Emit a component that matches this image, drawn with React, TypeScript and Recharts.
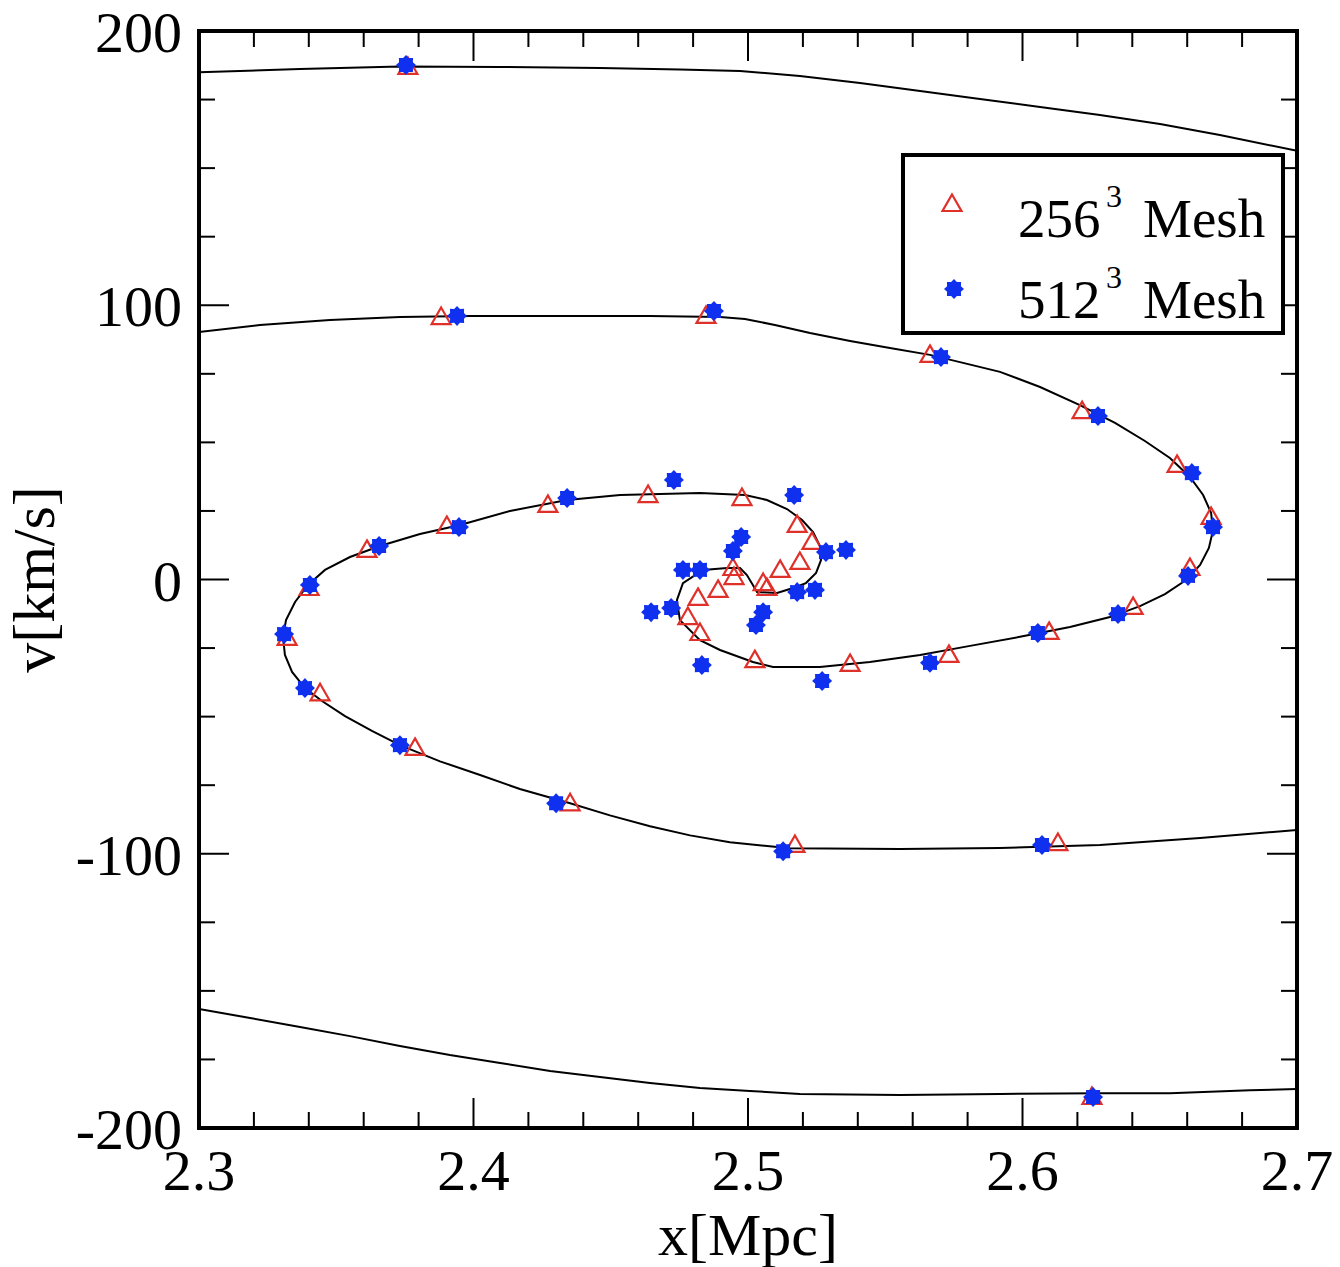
import React from 'react';
import { ScatterChart, Scatter, XAxis, YAxis, Legend, Label } from 'recharts';

const FONT = '"Liberation Serif", "Times New Roman", serif';
const RED = '#e0302a';
const BLUE = '#1030f0';

// axis ticks (majors get labels)
const xTicks = [2.3, 2.32, 2.34, 2.36, 2.38, 2.4, 2.42, 2.44, 2.46, 2.48, 2.5, 2.52, 2.54, 2.56, 2.58, 2.6, 2.62, 2.64, 2.66, 2.68, 2.7];
const yTicks = [-200, -175, -150, -125, -100, -75, -50, -25, 0, 25, 50, 75, 100, 125, 150, 175, 200];

// phase-space curve pieces, x [Mpc] / v [km/s]
const topArc = [
  { x: 2.3, v: 185.0 }, { x: 2.3368, v: 186.1 }, { x: 2.3732, v: 187.1 }, { x: 2.4097, v: 186.9 },
  { x: 2.4461, v: 186.5 }, { x: 2.4752, v: 186.0 }, { x: 2.4971, v: 185.4 }, { x: 2.5189, v: 183.6 },
  { x: 2.5408, v: 181.0 }, { x: 2.5627, v: 178.1 }, { x: 2.5845, v: 175.2 }, { x: 2.6064, v: 172.3 },
  { x: 2.6282, v: 169.4 }, { x: 2.6501, v: 166.1 }, { x: 2.6719, v: 162.1 }, { x: 2.7, v: 156.3 },
];

const bottomArc = [
  { x: 2.3, v: -156.6 }, { x: 2.3186, v: -159.9 }, { x: 2.3368, v: -163.2 }, { x: 2.355, v: -166.5 },
  { x: 2.3732, v: -170.1 }, { x: 2.3914, v: -173.4 }, { x: 2.4097, v: -176.3 }, { x: 2.4279, v: -179.2 },
  { x: 2.4461, v: -181.4 }, { x: 2.4643, v: -183.6 }, { x: 2.4825, v: -185.4 }, { x: 2.5007, v: -186.5 },
  { x: 2.5189, v: -187.6 }, { x: 2.5554, v: -188.0 }, { x: 2.5918, v: -187.6 }, { x: 2.6282, v: -187.3 },
  { x: 2.6537, v: -187.3 }, { x: 2.6829, v: -186.2 }, { x: 2.7, v: -185.8 },
];

const spiral = [
  { x: 2.3, v: 90.2 }, { x: 2.3222, v: 92.8 }, { x: 2.3477, v: 94.6 }, { x: 2.3732, v: 95.7 },
  { x: 2.3987, v: 96.1 }, { x: 2.4279, v: 96.1 }, { x: 2.4643, v: 96.1 }, { x: 2.4898, v: 95.7 },
  { x: 2.4989, v: 95.0 }, { x: 2.5098, v: 92.8 }, { x: 2.5226, v: 89.9 }, { x: 2.5372, v: 87.0 },
  { x: 2.5517, v: 84.4 }, { x: 2.5663, v: 81.9 }, { x: 2.5791, v: 78.8 }, { x: 2.5918, v: 75.7 },
  { x: 2.6064, v: 70.2 }, { x: 2.6209, v: 63.6 }, { x: 2.6337, v: 57.1 }, { x: 2.6446, v: 50.5 },
  { x: 2.6537, v: 44.3 }, { x: 2.661, v: 37.4 }, { x: 2.6658, v: 30.8 }, { x: 2.6687, v: 24.3 },
  { x: 2.6694, v: 18.0 }, { x: 2.6679, v: 11.5 }, { x: 2.6647, v: 5.3 }, { x: 2.6596, v: -0.2 },
  { x: 2.6519, v: -5.3 }, { x: 2.6428, v: -9.7 }, { x: 2.6319, v: -13.7 }, { x: 2.6173, v: -17.3 },
  { x: 2.5991, v: -20.9 }, { x: 2.5809, v: -24.2 }, { x: 2.5627, v: -27.5 }, { x: 2.5444, v: -30.1 },
  { x: 2.5262, v: -31.9 }, { x: 2.5091, v: -31.9 }, { x: 2.5018, v: -30.1 }, { x: 2.4898, v: -25.7 },
  { x: 2.4825, v: -22.1 }, { x: 2.4752, v: -14.8 }, { x: 2.4741, v: -7.5 }, { x: 2.4763, v: -1.3 },
  { x: 2.4836, v: 3.5 }, { x: 2.4924, v: 4.2 }, { x: 2.4971, v: 4.2 }, { x: 2.4996, v: 1.6 },
  { x: 2.5033, v: -4.6 }, { x: 2.5106, v: -4.9 }, { x: 2.5164, v: -3.1 }, { x: 2.5211, v: -1.3 },
  { x: 2.5248, v: 2.4 }, { x: 2.5266, v: 7.1 }, { x: 2.5262, v: 12.2 }, { x: 2.5237, v: 17.3 },
  { x: 2.5197, v: 21.7 }, { x: 2.5142, v: 25.7 }, { x: 2.5069, v: 29.0 }, { x: 2.4989, v: 30.8 },
  { x: 2.4825, v: 31.5 }, { x: 2.4534, v: 30.8 }, { x: 2.4341, v: 29.0 }, { x: 2.4133, v: 25.0 },
  { x: 2.3951, v: 19.9 }, { x: 2.3805, v: 16.6 }, { x: 2.3659, v: 12.2 }, { x: 2.355, v: 8.2 },
  { x: 2.3459, v: 3.5 }, { x: 2.3397, v: -2.0 }, { x: 2.335, v: -8.2 }, { x: 2.3317, v: -14.8 },
  { x: 2.3306, v: -21.0 }, { x: 2.3313, v: -27.5 }, { x: 2.3339, v: -33.7 }, { x: 2.3386, v: -39.6 },
  { x: 2.3448, v: -44.3 }, { x: 2.3532, v: -49.8 }, { x: 2.363, v: -55.2 }, { x: 2.3732, v: -60.4 },
  { x: 2.3878, v: -66.3 }, { x: 2.4024, v: -71.3 }, { x: 2.4169, v: -76.4 }, { x: 2.4352, v: -81.6 },
  { x: 2.4497, v: -86.0 }, { x: 2.4643, v: -90.0 }, { x: 2.4789, v: -93.3 }, { x: 2.4934, v: -95.8 },
  { x: 2.5153, v: -98.0 }, { x: 2.5554, v: -98.3 }, { x: 2.5918, v: -97.9 }, { x: 2.6282, v: -96.8 },
  { x: 2.6647, v: -94.3 }, { x: 2.7, v: -91.3 },
];

// 256^3 mesh particles
const mesh256 = [
  { x: 2.3761, v: 186.9 }, { x: 2.3882, v: 95.7 }, { x: 2.4847, v: 96.1 }, { x: 2.5663, v: 81.9 },
  { x: 2.6217, v: 61.4 }, { x: 2.6563, v: 41.8 }, { x: 2.6687, v: 22.8 }, { x: 2.661, v: 4.2 },
  { x: 2.6403, v: -10.0 }, { x: 2.6097, v: -19.1 }, { x: 2.5732, v: -27.5 }, { x: 2.5372, v: -30.8 },
  { x: 2.4978, v: 29.7 }, { x: 2.4636, v: 30.8 }, { x: 2.5179, v: 19.9 }, { x: 2.5233, v: 13.7 },
  { x: 2.5189, v: 6.4 }, { x: 2.5117, v: 3.5 }, { x: 2.4945, v: 4.2 }, { x: 2.4949, v: 0.9 },
  { x: 2.5055, v: -1.3 }, { x: 2.5069, v: -3.1 }, { x: 2.4891, v: -3.8 }, { x: 2.4818, v: -6.7 },
  { x: 2.4781, v: -13.7 }, { x: 2.4825, v: -19.5 }, { x: 2.5025, v: -29.4 }, { x: 2.6129, v: -96.1 },
  { x: 2.5171, v: -96.8 }, { x: 2.4352, v: -81.6 }, { x: 2.3787, v: -61.4 }, { x: 2.3441, v: -41.5 },
  { x: 2.3321, v: -21.3 }, { x: 2.3401, v: -3.1 }, { x: 2.3612, v: 10.8 }, { x: 2.3903, v: 19.5 },
  { x: 2.4271, v: 27.2 }, { x: 2.6253, v: -188.7 },
];

// 512^3 mesh particles
const mesh512 = [
  { x: 2.3754, v: 187.6 }, { x: 2.394, v: 96.1 }, { x: 2.4876, v: 97.9 }, { x: 2.5703, v: 81.1 },
  { x: 2.6275, v: 59.6 }, { x: 2.6617, v: 38.8 }, { x: 2.6694, v: 19.1 }, { x: 2.6603, v: 1.3 },
  { x: 2.6348, v: -12.6 }, { x: 2.6056, v: -19.5 }, { x: 2.5663, v: -30.4 }, { x: 2.527, v: -37.0 },
  { x: 2.5357, v: 10.8 }, { x: 2.5284, v: 10.0 }, { x: 2.5244, v: -3.8 }, { x: 2.5179, v: -4.6 },
  { x: 2.5168, v: 30.8 }, { x: 2.473, v: 36.3 }, { x: 2.4975, v: 15.5 }, { x: 2.4945, v: 10.4 },
  { x: 2.4763, v: 3.5 }, { x: 2.4825, v: 3.5 }, { x: 2.4647, v: -11.9 }, { x: 2.472, v: -10.4 },
  { x: 2.5055, v: -11.9 }, { x: 2.5029, v: -16.6 }, { x: 2.4832, v: -31.2 }, { x: 2.6257, v: -188.7 },
  { x: 2.6071, v: -96.8 }, { x: 2.5128, v: -99.1 }, { x: 2.4301, v: -81.6 }, { x: 2.3732, v: -60.4 },
  { x: 2.3386, v: -39.6 }, { x: 2.331, v: -19.9 }, { x: 2.3404, v: -2.0 }, { x: 2.3656, v: 12.2 },
  { x: 2.3947, v: 19.1 }, { x: 2.4341, v: 29.7 },
];

const isMajorX = (v: number) => Math.abs(v * 10 - Math.round(v * 10)) < 1e-6;
const isMajorY = (v: number) => Math.abs(v % 100) < 1e-6;

const triPoints = (cx: number, cy: number) =>
  `${cx},${cy - 9.5} ${cx + 9.5},${cy + 7} ${cx - 9.5},${cy + 7}`;

const starPoints = (cx: number, cy: number) => {
  const pts: string[] = [];
  for (let i = 0; i < 16; i++) {
    const r = i % 2 === 0 ? 10 : 7.5;
    const a = (Math.PI * 2 * i) / 16;
    pts.push(`${cx + r * Math.cos(a)},${cy + r * Math.sin(a)}`);
  }
  return pts.join(' ');
};

const TriangleShape = (props: any) => (
  <polygon points={triPoints(props.cx, props.cy)} fill="none" stroke={RED} strokeWidth={2.2} />
);
const StarShape = (props: any) => <polygon points={starPoints(props.cx, props.cy)} fill={BLUE} />;
const NoShape = () => <g />;

const BottomTick = ({ x, y, payload }: any) => {
  const major = isMajorX(payload.value);
  return (
    <g>
      <line x1={x} x2={x} y1={y} y2={y - (major ? 30 : 16)} stroke="#000" strokeWidth={2} />
      {major && (
        <text x={x} y={y + 62} textAnchor="middle" fontFamily={FONT} fontSize={58} fill="#000">
          {payload.value.toFixed(1)}
        </text>
      )}
    </g>
  );
};

const TopTick = ({ x, y, payload }: any) => {
  const major = isMajorX(payload.value);
  return <line x1={x} x2={x} y1={y} y2={y + (major ? 30 : 16)} stroke="#000" strokeWidth={2} />;
};

const LeftTick = ({ x, y, payload }: any) => {
  const major = isMajorY(payload.value);
  return (
    <g>
      <line x1={x} x2={x + (major ? 30 : 16)} y1={y} y2={y} stroke="#000" strokeWidth={2} />
      {major && (
        <text x={x - 17} y={y + 21} textAnchor="end" fontFamily={FONT} fontSize={58} fill="#000">
          {String(payload.value)}
        </text>
      )}
    </g>
  );
};

const RightTick = ({ x, y, payload }: any) => {
  const major = isMajorY(payload.value);
  return <line x1={x} x2={x - (major ? 30 : 16)} y1={y} y2={y} stroke="#000" strokeWidth={2} />;
};

const LegendBox = () => (
  <svg width={384} height={182} style={{ display: 'block' }}>
    <rect x={2} y={2} width={380} height={178} fill="#fff" stroke="#000" strokeWidth={4} />
    <polygon points={triPoints(51, 51)} fill="none" stroke={RED} strokeWidth={2.2} />
    <text x={117} y={84} fontFamily={FONT} fontSize={55} fill="#000">256</text>
    <text x={205} y={54} fontFamily={FONT} fontSize={32} fill="#000">3</text>
    <text x={242} y={84} fontFamily={FONT} fontSize={55} fill="#000">Mesh</text>
    <polygon points={starPoints(53, 136)} fill={BLUE} />
    <text x={117} y={165} fontFamily={FONT} fontSize={55} fill="#000">512</text>
    <text x={205} y={135} fontFamily={FONT} fontSize={32} fill="#000">3</text>
    <text x={242} y={165} fontFamily={FONT} fontSize={55} fill="#000">Mesh</text>
  </svg>
);

const axisLine = { stroke: '#000', strokeWidth: 4, strokeLinecap: 'square' as const };

export default function App() {
  return (
    <div style={{ position: 'absolute', left: 0, top: 0, background: '#fff' }}>
      <ScatterChart width={1340} height={1267} margin={{ top: 0, right: 0, left: 0, bottom: 0 }}>
        <XAxis
          xAxisId="bottom"
          type="number"
          dataKey="x"
          domain={[2.3, 2.7]}
          allowDataOverflow
          ticks={xTicks}
          interval={0}
          height={139}
          tickSize={0}
          tickMargin={0}
          tickLine={false}
          axisLine={axisLine}
          tick={<BottomTick />}
        >
          <Label
            content={({ viewBox }: any) => (
              <text
                x={viewBox.x + viewBox.width / 2}
                y={viewBox.y + 127}
                textAnchor="middle"
                fontFamily={FONT}
                fontSize={60}
                fill="#000"
              >
                x[Mpc]
              </text>
            )}
          />
        </XAxis>
        <XAxis
          xAxisId="top"
          orientation="top"
          type="number"
          dataKey="x"
          domain={[2.3, 2.7]}
          allowDataOverflow
          ticks={xTicks}
          interval={0}
          height={31}
          tickSize={0}
          tickMargin={0}
          tickLine={false}
          axisLine={axisLine}
          tick={<TopTick />}
        />
        <YAxis
          yAxisId="left"
          type="number"
          dataKey="v"
          domain={[-200, 200]}
          allowDataOverflow
          ticks={yTicks}
          interval={0}
          width={199}
          tickSize={0}
          tickMargin={0}
          tickLine={false}
          axisLine={axisLine}
          tick={<LeftTick />}
        >
          <Label
            content={({ viewBox }: any) => {
              const cy = viewBox.y + viewBox.height / 2;
              return (
                <text
                  x={54}
                  y={cy}
                  transform={`rotate(-90, 54, ${cy})`}
                  textAnchor="middle"
                  fontFamily={FONT}
                  fontSize={60}
                  fill="#000"
                >
                  v[km/s]
                </text>
              );
            }}
          />
        </YAxis>
        <YAxis
          yAxisId="right"
          orientation="right"
          type="number"
          dataKey="v"
          domain={[-200, 200]}
          allowDataOverflow
          ticks={yTicks}
          interval={0}
          width={43}
          tickSize={0}
          tickMargin={0}
          tickLine={false}
          axisLine={axisLine}
          tick={<RightTick />}
        />
        <Legend
          layout="horizontal"
          verticalAlign="middle"
          align="center"
          wrapperStyle={{ left: 901, top: 153, width: 384, height: 182 }}
          content={() => <LegendBox />}
        />
        <Scatter name="top" data={topArc} xAxisId="bottom" yAxisId="left" line={{ stroke: '#000', strokeWidth: 2 }} shape={<NoShape />} legendType="none" isAnimationActive={false} />
        <Scatter name="bottom" data={bottomArc} xAxisId="bottom" yAxisId="left" line={{ stroke: '#000', strokeWidth: 2 }} shape={<NoShape />} legendType="none" isAnimationActive={false} />
        <Scatter name="spiral" data={spiral} xAxisId="bottom" yAxisId="left" line={{ stroke: '#000', strokeWidth: 2 }} shape={<NoShape />} legendType="none" isAnimationActive={false} />
        <Scatter name="256^3 Mesh" data={mesh256} xAxisId="bottom" yAxisId="left" shape={<TriangleShape />} isAnimationActive={false} />
        <Scatter name="512^3 Mesh" data={mesh512} xAxisId="bottom" yAxisId="left" shape={<StarShape />} isAnimationActive={false} />
      </ScatterChart>
    </div>
  );
}
